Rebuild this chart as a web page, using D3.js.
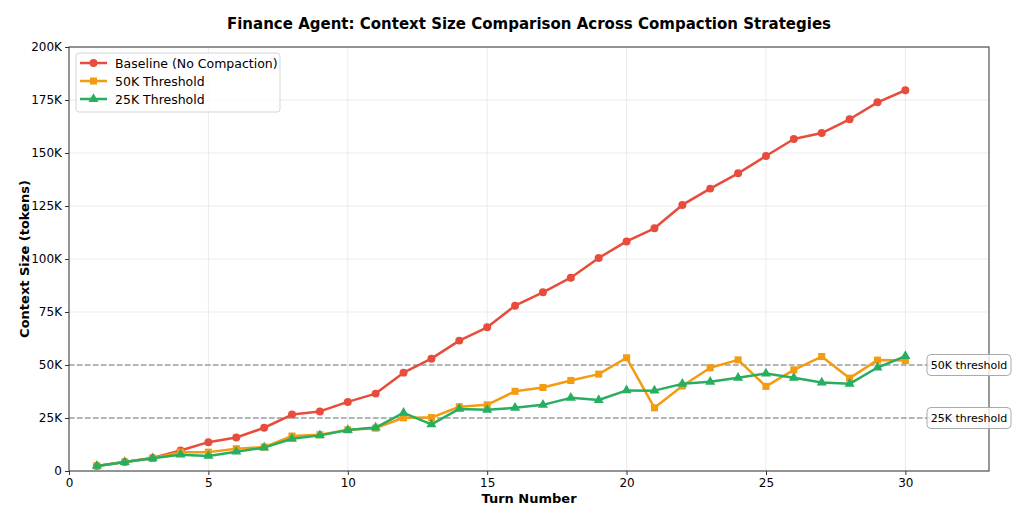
<!DOCTYPE html>
<html>
<head>
<meta charset="utf-8">
<script src="https://d3js.org/d3.v7.min.js"></script>
<style>
  body { margin: 0; background: #fff; }
  svg { font-family: "DejaVu Sans", sans-serif; }
</style>
</head>
<body>
<script>
// values in thousands of tokens, one per turn
const turns = d3.range(1, 31);
const baseline = [2.4, 4.2, 6.1, 9.7, 13.6, 15.8, 20.4, 26.6, 28.1, 32.6, 36.5, 46.4, 53.0, 61.5, 67.8,
                  78.0, 84.3, 91.2, 100.5, 108.3, 114.5, 125.5, 133.2, 140.4, 148.6, 156.6, 159.4, 165.9, 173.9, 179.6];
const thr50 = [2.4, 4.2, 6.0, 8.9, 8.9, 10.5, 11.3, 16.5, 17.1, 19.4, 20.2, 25.1, 25.2, 30.3, 31.2,
               37.6, 39.4, 42.7, 45.7, 53.4, 29.8, 40.1, 48.7, 52.4, 39.9, 47.7, 54.0, 43.8, 52.3, 52.1];
const thr25 = [2.4, 4.2, 6.0, 7.7, 7.1, 9.1, 11.0, 15.2, 16.8, 19.3, 20.5, 27.4, 22.0, 29.3, 28.9,
               29.8, 31.2, 34.5, 33.5, 38.0, 37.9, 41.1, 42.1, 44.0, 46.0, 44.0, 41.7, 41.1, 48.8, 54.2];
const seriesNames = ["Baseline (No Compaction)", "50K Threshold", "25K Threshold"];
const thresholds = [50, 25];
const xTicks = [0, 5, 10, 15, 20, 25, 30];
const yTicks = [0, 25, 50, 75, 100, 125, 150, 175, 200];

const W = 1024, H = 523;
const m = { left: 69, right: 1024 - 989, top: 47, bottom: 523 - 471 };
const iw = W - m.left - m.right, ih = H - m.top - m.bottom;

const svg = d3.select("body").append("svg").attr("width", W).attr("height", H);
const g = svg.append("g").attr("transform", `translate(${m.left},${m.top})`);

const x = d3.scaleLinear().domain([0, 33]).range([0, iw]);
const y = d3.scaleLinear().domain([0, 200]).range([ih, 0]);

// grid
g.append("g").selectAll("line").data(xTicks).join("line")
  .attr("x1", d => x(d)).attr("x2", d => x(d)).attr("y1", 0).attr("y2", ih)
  .attr("stroke", "#e6e6e6").attr("stroke-width", 0.8);
g.append("g").selectAll("line").data(yTicks).join("line")
  .attr("x1", 0).attr("x2", iw).attr("y1", d => y(d)).attr("y2", d => y(d))
  .attr("stroke", "#e6e6e6").attr("stroke-width", 0.8);

// threshold lines
g.append("g").selectAll("line").data(thresholds).join("line")
  .attr("x1", 0).attr("x2", iw).attr("y1", d => y(d)).attr("y2", d => y(d))
  .attr("stroke", "#8a9496").attr("stroke-width", 1.5)
  .attr("stroke-dasharray", "5.5,2.5").attr("opacity", 0.85);

const colors = ["#e74c3c", "#f39c12", "#27ae60"];
const data = [baseline, thr50, thr25];

const line = d3.line().x((d, i) => x(turns[i])).y(d => y(d));
const symbols = [d3.symbolCircle, d3.symbolSquare, d3.symbolTriangle];
const symSize = [50, 50, 44];

data.forEach((vals, k) => {
  g.append("path").datum(vals)
    .attr("d", line).attr("fill", "none")
    .attr("stroke", colors[k]).attr("stroke-width", 2.5)
    .attr("stroke-linejoin", "round");
  g.append("g").selectAll("path").data(vals).join("path")
    .attr("transform", (d, i) => `translate(${x(turns[i])},${y(d)})`)
    .attr("d", d3.symbol().type(symbols[k]).size(symSize[k]))
    .attr("fill", colors[k]);
});

// spines
g.append("rect").attr("width", iw).attr("height", ih)
  .attr("fill", "none").attr("stroke", "#333").attr("stroke-width", 1);

// axes
const xAxis = g.append("g").attr("transform", `translate(0,${ih})`)
  .call(d3.axisBottom(x).tickValues(xTicks).tickSize(4).tickPadding(3));
const yAxis = g.append("g")
  .call(d3.axisLeft(y).tickValues(yTicks).tickSize(4).tickPadding(3)
    .tickFormat(d => d === 0 ? "0" : d + "K"));
[xAxis, yAxis].forEach(a => {
  a.select(".domain").remove();
  a.selectAll("text").attr("font-size", 12).attr("fill", "#000")
    .attr("font-family", "DejaVu Sans, sans-serif");
  a.selectAll("line").attr("stroke", "#333");
});

// threshold labels
const lab = g.append("g").selectAll("g").data(thresholds).join("g")
  .attr("transform", d => `translate(${iw - 59},${y(d)})`);
lab.append("rect").attr("x", -3).attr("y", -10.5).attr("width", 84).attr("height", 21)
  .attr("rx", 4).attr("fill", "#fff").attr("fill-opacity", 0.8)
  .attr("stroke", "#aaa").attr("stroke-width", 1);
lab.append("text").attr("x", 39).attr("y", 4).attr("text-anchor", "middle")
  .attr("font-size", 11).text(d => d + "K threshold");

// legend
const leg = g.append("g").attr("transform", "translate(7,6)");
leg.append("rect").attr("width", 204).attr("height", 59).attr("rx", 3)
  .attr("fill", "#fff").attr("fill-opacity", 0.8).attr("stroke", "#d5d5d5");
seriesNames.forEach((name, k) => {
  const row = leg.append("g").attr("transform", `translate(4,${10 + k * 18})`);
  row.append("line").attr("x1", 0).attr("x2", 27)
    .attr("stroke", colors[k]).attr("stroke-width", 2.5);
  row.append("path").attr("transform", "translate(13.5,0)")
    .attr("d", d3.symbol().type(symbols[k]).size(symSize[k]))
    .attr("fill", colors[k]);
  row.append("text").attr("x", 35).attr("y", 4.5).attr("font-size", 12.5).text(name);
});

// titles
svg.append("text").attr("x", m.left + iw / 2).attr("y", 29)
  .attr("text-anchor", "middle").attr("font-size", 15).attr("font-weight", "bold")
  .text("Finance Agent: Context Size Comparison Across Compaction Strategies");
svg.append("text").attr("x", m.left + iw / 2).attr("y", 503)
  .attr("text-anchor", "middle").attr("font-size", 13).attr("font-weight", "bold")
  .text("Turn Number");
svg.append("text").attr("transform", `translate(29,${m.top + ih / 2}) rotate(-90)`)
  .attr("text-anchor", "middle").attr("font-size", 13).attr("font-weight", "bold")
  .text("Context Size (tokens)");
</script>
</body>
</html>
